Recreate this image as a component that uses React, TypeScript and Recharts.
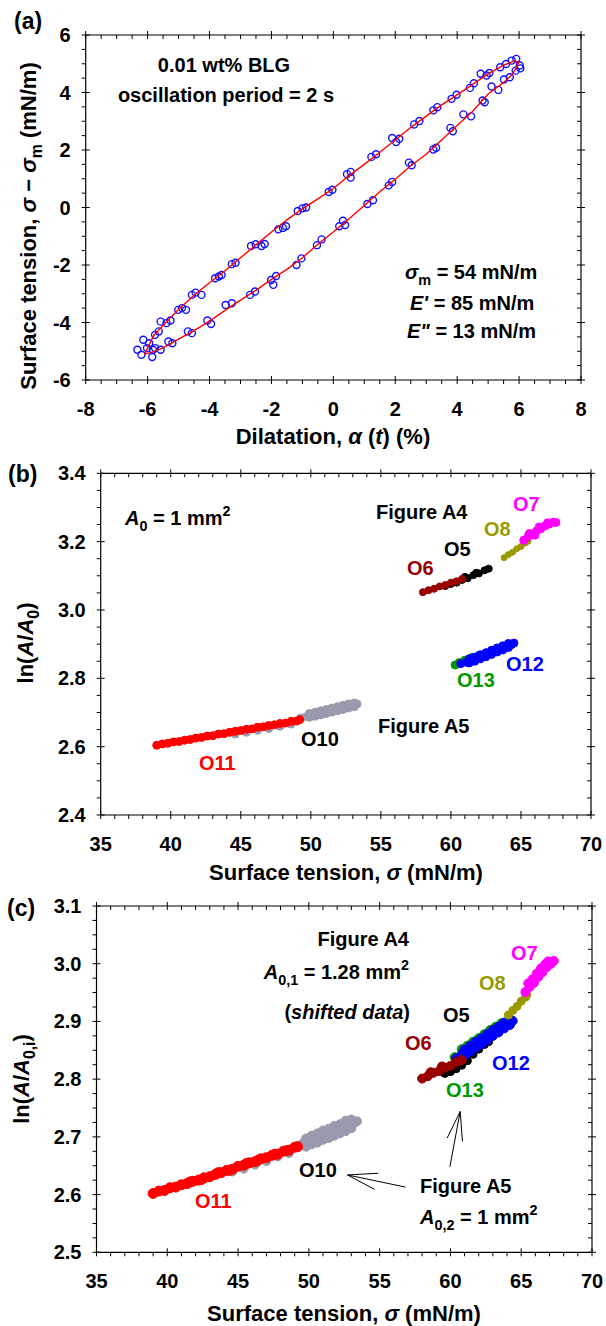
import React from 'react';
import { ScatterChart, Scatter, XAxis, YAxis, ReferenceLine } from 'recharts';

const FONT = '"Liberation Sans", Arial, sans-serif';

// ---------- panel (a): dilatation loop ----------
const aUpper: [number, number][] = [
  [-6.33, -4.95], [-6.2, -5.12], [-6.14, -4.6], [-6.02, -4.89], [-5.95, -4.72], [-5.83, -4.95],
  [-5.76, -4.43], [-5.64, -4.31], [-5.85, -5.2], [-5.58, -3.97], [-5.39, -4.02], [-5.26, -3.93],
  [-5.01, -3.56], [-4.89, -3.5], [-4.76, -3.56], [-4.57, -3.04], [-4.45, -2.96], [-4.26, -3.04],
  [-3.82, -2.46], [-3.7, -2.4], [-3.61, -2.35], [-3.28, -1.97], [-3.16, -1.92],
  [-2.66, -1.34], [-2.51, -1.28], [-2.32, -1.34], [-2.22, -1.27],
  [-1.78, -0.76], [-1.63, -0.71], [-1.53, -0.65], [-1.15, -0.12], [-1.0, -0.03], [-0.88, 0.0],
  [-0.15, 0.54], [-0.03, 0.62], [0.44, 1.16], [0.56, 1.24], [0.56, 1.04], [1.23, 1.76], [1.38, 1.85],
  [1.9, 2.42], [2.03, 2.28], [2.13, 2.39], [2.61, 2.89], [2.78, 3.01], [3.23, 3.38], [3.36, 3.49],
  [3.82, 3.78], [3.98, 3.92], [4.41, 4.16], [4.54, 4.32], [4.76, 4.65], [4.95, 4.59], [5.04, 4.68],
  [5.39, 4.88], [5.58, 4.99], [5.76, 5.11], [5.91, 5.17],
];
const aLower: [number, number][] = [
  [6.02, 4.94], [6.04, 4.84], [5.89, 4.76], [5.7, 4.53], [5.51, 4.45], [5.11, 4.21], [5.33, 4.09],
  [4.82, 3.72], [4.89, 3.66], [4.2, 3.24], [4.45, 3.17], [3.78, 2.77], [3.86, 2.65],
  [3.23, 2.02], [3.32, 2.08], [2.44, 1.56], [2.53, 1.47], [1.79, 0.77], [1.9, 0.89],
  [1.1, 0.12], [1.28, 0.25], [0.31, -0.46], [0.38, -0.61], [0.19, -0.65],
  [-0.53, -1.31], [-0.38, -1.11], [-1.19, -2.0], [-1.03, -1.77],
  [-2.01, -2.52], [-1.94, -2.69], [-1.85, -2.38], [-2.69, -3.04], [-2.53, -2.92],
  [-3.48, -3.39], [-3.28, -3.33], [-4.07, -3.93], [-3.95, -4.05], [-4.7, -4.31], [-4.57, -4.37],
  [-5.33, -4.66], [-5.2, -4.72], [-5.76, -4.89], [-5.58, -4.95],
];
const aFit: [number, number][] = [
  [-6.1, -5.1], [-5.8, -4.45], [-5.4, -3.98], [-5.0, -3.55], [-4.5, -3.05], [-4.0, -2.62],
  [-3.5, -2.2], [-3.0, -1.75], [-2.5, -1.3], [-2.0, -0.85], [-1.5, -0.43], [-1.0, -0.05],
  [-0.5, 0.3], [0, 0.66], [0.5, 1.1], [1.0, 1.5], [1.5, 1.92], [2.0, 2.35], [2.5, 2.78],
  [3.0, 3.18], [3.5, 3.57], [4.0, 3.92], [4.5, 4.28], [5.0, 4.65], [5.5, 4.95], [5.85, 5.1],
  [6.0, 5.05], [5.8, 4.65], [5.5, 4.35], [5.0, 3.95], [4.5, 3.35], [4.0, 2.85], [3.5, 2.35],
  [3.0, 1.85], [2.5, 1.45], [2.0, 0.98], [1.5, 0.55], [1.0, 0.07], [0.5, -0.4], [0, -0.85],
  [-0.5, -1.28], [-1.0, -1.75], [-1.5, -2.15], [-2.0, -2.5], [-2.5, -2.88], [-3.0, -3.22],
  [-3.5, -3.58], [-4.0, -3.95], [-4.5, -4.28], [-5.0, -4.58], [-5.5, -4.88], [-5.9, -5.05],
  [-6.1, -5.1],
];

// ---------- panel (b): ln(A/A0) vs sigma ----------
const bO11: [number, number][] = [
  [39.0, 2.604], [39.4, 2.608], [39.8, 2.61], [40.2, 2.614], [40.6, 2.615], [41.0, 2.619],
  [41.4, 2.621], [41.8, 2.625], [42.2, 2.627], [42.6, 2.631], [43.0, 2.632], [43.4, 2.637],
  [43.8, 2.638], [44.2, 2.642], [44.6, 2.645], [45.0, 2.647], [45.4, 2.651], [45.8, 2.652],
  [46.2, 2.657], [46.6, 2.658], [47.0, 2.662], [47.4, 2.664], [47.8, 2.668], [48.2, 2.669],
  [48.6, 2.674], [49.0, 2.675], [49.2, 2.679],
];
const bO10: [number, number][] = [
  [44.6, 2.637], [45.4, 2.642], [46.2, 2.648], [47.0, 2.653], [47.8, 2.66], [48.6, 2.666],
  [49.3, 2.684], [49.7, 2.688], [50.1, 2.694], [50.5, 2.697], [50.9, 2.702], [51.3, 2.704],
  [51.7, 2.71], [52.1, 2.712], [52.5, 2.718], [52.9, 2.72], [53.3, 2.725],
  [49.9, 2.697], [50.3, 2.701], [50.7, 2.705], [51.1, 2.709], [51.5, 2.713], [51.9, 2.717],
  [52.3, 2.721], [52.7, 2.725], [53.1, 2.728],
  [49.9, 2.686], [50.3, 2.689], [50.7, 2.693], [51.1, 2.697], [51.5, 2.701], [51.9, 2.705],
  [52.3, 2.709], [52.7, 2.713], [53.1, 2.717],
];
const bO6: [number, number][] = [
  [58.0, 3.052], [58.4, 3.058], [58.8, 3.062], [59.2, 3.069], [59.6, 3.073], [60.0, 3.08],
  [60.4, 3.084], [60.8, 3.091],
];
const bO5: [number, number][] = [
  [59.6, 3.07], [60.0, 3.076], [60.4, 3.08], [60.8, 3.088], [61.2, 3.093], [61.6, 3.102],
  [62.0, 3.107], [62.4, 3.116], [62.7, 3.121], [61.0, 3.097], [61.8, 3.109],
];
const bO8: [number, number][] = [
  [63.8, 3.153], [64.1, 3.162], [64.4, 3.169], [64.7, 3.179], [65.0, 3.186], [65.3, 3.196], [65.5, 3.201],
];
const bO7: [number, number][] = [
  [65.2, 3.204], [65.5, 3.214], [65.8, 3.221], [66.1, 3.231], [66.4, 3.237], [66.7, 3.246],
  [67.0, 3.251], [67.3, 3.257], [67.5, 3.256], [65.6, 3.224], [66.0, 3.219], [66.3, 3.243], [66.9, 3.255],
];
const bO13: [number, number][] = [
  [60.3, 2.839], [60.6, 2.846], [61.0, 2.853], [61.5, 2.861], [62.0, 2.867], [62.5, 2.874],
];
const bO12: [number, number][] = [
  [60.7, 2.843], [61.1, 2.847], [61.5, 2.854], [61.9, 2.859], [62.3, 2.867], [62.7, 2.871],
  [63.1, 2.88], [63.5, 2.885], [63.9, 2.894], [64.3, 2.898], [64.5, 2.903],
  [61.3, 2.857], [61.7, 2.862], [62.1, 2.869], [62.5, 2.875], [62.9, 2.882], [63.3, 2.889],
  [63.7, 2.895], [64.1, 2.902],
  [61.3, 2.845], [61.7, 2.85], [62.1, 2.857], [62.5, 2.863], [62.9, 2.87], [63.3, 2.877],
  [63.7, 2.883], [64.1, 2.89],
];

// ---------- panel (c): shifted data ----------
const cO11: [number, number][] = [
  [39.0, 2.602], [39.4, 2.606], [39.8, 2.607], [40.2, 2.612], [40.6, 2.613], [41.0, 2.617],
  [41.4, 2.619], [41.8, 2.623], [42.2, 2.625], [42.6, 2.629], [43.0, 2.631], [43.4, 2.635],
  [43.8, 2.638], [44.2, 2.642], [44.6, 2.644], [45.0, 2.649], [45.4, 2.651], [45.8, 2.655],
  [46.2, 2.657], [46.6, 2.662], [47.0, 2.664], [47.4, 2.668], [47.8, 2.67], [48.2, 2.675],
  [48.6, 2.677], [49.0, 2.682], [49.2, 2.683], [41.6, 2.622], [43.6, 2.638], [45.6, 2.654],
  [47.6, 2.67], [42.4, 2.626], [44.4, 2.642], [46.4, 2.659], [48.4, 2.676],
];
const cO10: [number, number][] = [
  [44.6, 2.64], [45.4, 2.645], [46.2, 2.652], [47.0, 2.658], [47.8, 2.666], [48.6, 2.672],
  [49.2, 2.684], [49.6, 2.689], [50.0, 2.692], [50.4, 2.698], [50.8, 2.7], [51.2, 2.706],
  [51.6, 2.708], [52.0, 2.714], [52.4, 2.716], [52.8, 2.722], [53.2, 2.724], [53.4, 2.727],
  [49.8, 2.697], [50.2, 2.702], [50.6, 2.706], [51.0, 2.711], [51.4, 2.714], [51.8, 2.719],
  [52.2, 2.722], [52.6, 2.728], [53.0, 2.73],
  [49.8, 2.683], [50.2, 2.687], [50.6, 2.69], [51.0, 2.695], [51.4, 2.698], [51.8, 2.702],
  [52.2, 2.706], [52.6, 2.71], [53.0, 2.715],
];
const cO5: [number, number][] = [
  [59.6, 2.81], [60.0, 2.813], [60.4, 2.818], [60.8, 2.824], [61.2, 2.832], [61.6, 2.843],
  [62.0, 2.852], [62.4, 2.86], [62.7, 2.865],
];
const cO6: [number, number][] = [
  [58.0, 2.801], [58.4, 2.805], [58.8, 2.811], [59.2, 2.814], [59.6, 2.82], [60.0, 2.823],
  [60.4, 2.83], [60.8, 2.833], [58.6, 2.812], [59.4, 2.822],
];
const cO13: [number, number][] = [
  [60.3, 2.838], [60.8, 2.852], [61.2, 2.858], [61.6, 2.865], [62.0, 2.871], [62.4, 2.878],
  [62.8, 2.885], [63.2, 2.891], [63.6, 2.897],
];
const cO12: [number, number][] = [
  [60.4, 2.836], [60.8, 2.843], [61.2, 2.849], [61.6, 2.857], [62.0, 2.862], [62.4, 2.87],
  [62.8, 2.876], [63.2, 2.883], [63.6, 2.889], [64.0, 2.896], [64.4, 2.901],
  [61.0, 2.851], [61.4, 2.858], [61.8, 2.865], [62.2, 2.871], [62.6, 2.878], [63.0, 2.885],
  [63.4, 2.891], [63.8, 2.898], [64.2, 2.904],
  [61.0, 2.841], [61.4, 2.848], [61.8, 2.855], [62.2, 2.861], [62.6, 2.868], [63.0, 2.875],
  [63.4, 2.881], [63.8, 2.888], [64.2, 2.894],
];
const cO8: [number, number][] = [
  [64.1, 2.911], [64.4, 2.919], [64.7, 2.926], [65.0, 2.935], [65.3, 2.942], [65.4, 2.946],
];
const cO7: [number, number][] = [
  [65.3, 2.951], [65.6, 2.96], [65.9, 2.967], [66.2, 2.977], [66.5, 2.985], [66.8, 2.994],
  [67.1, 3.0], [67.3, 3.005], [65.5, 2.966], [65.8, 2.973], [66.1, 2.983], [66.4, 2.992],
  [66.7, 2.999], [66.9, 3.004],
];

// arrows in panel (c): [from, tip, barb1, barb2]
const arrowO10: [number, number][] = [[56.82, 2.613], [52.73, 2.634], [54.91, 2.637], [54.64, 2.609]];
const arrowO13: [number, number][] = [[59.96, 2.648], [60.69, 2.744], [59.77, 2.698], [60.85, 2.692]];

// ---------- ticks ----------
const aXMajor = [-8, -6, -4, -2, 0, 2, 4, 6, 8];
const aYMajor = [-6, -4, -2, 0, 2, 4, 6];
const sXMajor = [35, 40, 45, 50, 55, 60, 65, 70];
const bYMajor = [2.4, 2.6, 2.8, 3.0, 3.2, 3.4];
const cYMajor = [2.5, 2.6, 2.7, 2.8, 2.9, 3.0, 3.1];

const steps = (from: number, to: number, step: number) => {
  const out: number[] = [];
  const n = Math.round((to - from) / step);
  for (let i = 0; i <= n; i++) out.push(+(from + i * step).toFixed(4));
  return out;
};
const aXTicks = steps(-8, 8, 0.5);
const aYTicks = steps(-6, 6, 0.5);
const sXTicks = steps(35, 70, 1);
const bYTicks = steps(2.4, 3.4, 0.05);
const cYTicks = steps(2.5, 3.1, 0.025);

const toPts = (arr: [number, number][]) => arr.map(([x, y]) => ({ x, y }));

type Side = 'bottom' | 'top' | 'left' | 'right';

// custom tick: long crossing tick for majors, short one for minors, label only on bottom/left majors
const mkTick = (side: Side, majors: number[], fmt?: (v: number) => string) => (props: any) => {
  const { x, y, payload } = props;
  const v = Number(payload.value);
  const major = majors.some((m) => Math.abs(m - v) < 1e-6);
  const horiz = side === 'bottom' || side === 'top';
  let l: number[];
  if (horiz) l = major ? [x, y - 4, x, y + 4] : [x, y, x, y + 4];
  else l = major ? [x - 4, y, x + 4, y] : [x - 4, y, x, y];
  return (
    <g>
      <line x1={l[0]} y1={l[1]} x2={l[2]} y2={l[3]} stroke="#000" strokeWidth={1} />
      {major && fmt && side === 'bottom' && (
        <text x={x} y={y + 36} textAnchor="middle" fontFamily={FONT} fontWeight="bold" fontSize={20} fill="#000">
          {fmt(v)}
        </text>
      )}
      {major && fmt && side === 'left' && (
        <text x={x - 15} y={y + 7} textAnchor="end" fontFamily={FONT} fontWeight="bold" fontSize={20} fill="#000">
          {fmt(v)}
        </text>
      )}
    </g>
  );
};

const dot = (color: string, r: number, open = false) => (p: any) => (
  <circle cx={p.cx} cy={p.cy} r={r} fill={open ? 'none' : color} stroke={color} strokeWidth={open ? 1.4 : 1} />
);
const noDot = () => <g />;

const axisLine = { stroke: '#000', strokeWidth: 1.2 };

// the four sides of the box; axes need a size of at least 1px or recharts skips them
const Frame = ({ xd, yd, xt, yt, xm, ym, xf, yf }: any) => [
  <XAxis key="xb" xAxisId="b" type="number" dataKey="x" domain={xd} allowDataOverflow ticks={xt} interval={0}
    height={1} tickSize={0} tickMargin={0} tickLine={false} axisLine={axisLine} tick={mkTick('bottom', xm, xf)} />,
  <XAxis key="xt" xAxisId="t" orientation="top" type="number" dataKey="x" domain={xd} allowDataOverflow ticks={xt}
    interval={0} height={1} tickSize={0} tickMargin={0} tickLine={false} axisLine={axisLine} tick={mkTick('top', xm)} />,
  <YAxis key="yl" yAxisId="l" type="number" dataKey="y" domain={yd} allowDataOverflow ticks={yt} interval={0}
    width={1} tickSize={0} tickMargin={0} tickLine={false} axisLine={axisLine} tick={mkTick('left', ym, yf)} />,
  <YAxis key="yr" yAxisId="r" orientation="right" type="number" dataKey="y" domain={yd} allowDataOverflow ticks={yt}
    interval={0} width={1} tickSize={0} tickMargin={0} tickLine={false} axisLine={axisLine} tick={mkTick('right', ym)} />,
];

const series = (name: string, data: [number, number][], color: string, r: number) => (
  <Scatter key={name} name={name} xAxisId="b" yAxisId="l" data={toPts(data)} shape={dot(color, r)} isAnimationActive={false} />
);

const arrowLines = (id: string, a: [number, number][]) =>
  [[a[0], a[1]], [a[2], a[1]], [a[3], a[1]]].map((seg, i) => (
    <ReferenceLine key={id + i} xAxisId="b" yAxisId="l" stroke="#000" strokeWidth={1}
      segment={[{ x: seg[0][0], y: seg[0][1] }, { x: seg[1][0], y: seg[1][1] }]} />
  ));

const T = { fontFamily: FONT, fontWeight: 'bold' as const, fill: '#000' };
// subscript followed by the rest of the line back on the baseline
const Sub = ({ children, after }: any) => (
  <>
    <tspan dy={6} fontSize="0.72em">{children}</tspan>
    <tspan dy={-6}>{after}</tspan>
  </>
);
const Sup = ({ children }: any) => <tspan dy={-9} fontSize="0.72em">{children}</tspan>;
const I = ({ children }: any) => <tspan fontStyle="italic">{children}</tspan>;

const Annotations = () => (
  <svg width={606} height={1326} style={{ position: 'absolute', left: 0, top: 0, pointerEvents: 'none' }}>
    <g {...T}>
      {/* panel (a) */}
      <text x={14} y={29} fontSize={23}>(a)</text>
      <text x={224} y={72} fontSize={20} textAnchor="middle">0.01 wt% BLG</text>
      <text x={226} y={102} fontSize={20} textAnchor="middle">oscillation period = 2 s</text>
      <text x={405} y={279} fontSize={20}><I>σ</I><Sub after=" = 54 mN/m">m</Sub></text>
      <text x={410} y={310} fontSize={20}><I>E'</I> = 85 mN/m</text>
      <text x={407} y={338} fontSize={20}><I>E"</I> = 13 mN/m</text>
      <text x={333} y={444} fontSize={22} textAnchor="middle">Dilatation, <I>α</I> (<I>t</I>) (%)</text>
      <text x={36} y={226} fontSize={22} textAnchor="middle" transform="rotate(-90 36 226)">
        Surface tension, <I>σ</I> − <I>σ</I><Sub after=" (mN/m)">m</Sub>
      </text>

      {/* panel (b) */}
      <text x={8} y={482} fontSize={23}>(b)</text>
      <text x={346} y={880} fontSize={22} textAnchor="middle">Surface tension, <I>σ</I>  (mN/m)</text>
      <text x={33} y={643} fontSize={22} textAnchor="middle" transform="rotate(-90 33 643)">
        ln(<I>A</I>/<I>A</I><Sub after=")">0</Sub>
      </text>
      <text x={125} y={525} fontSize={20}><I>A</I><Sub after=" = 1 mm">0</Sub><Sup>2</Sup></text>
      <text x={376} y={519} fontSize={20}>Figure A4</text>
      <text x={378} y={733} fontSize={20}>Figure A5</text>
      <text x={513} y={511} fontSize={20} fill="#ff00ff">O7</text>
      <text x={484} y={536} fontSize={20} fill="#999900">O8</text>
      <text x={444} y={556} fontSize={20}>O5</text>
      <text x={407} y={575} fontSize={20} fill="#990000">O6</text>
      <text x={506} y={671} fontSize={20} fill="#0000ff">O12</text>
      <text x={457} y={687} fontSize={20} fill="#009900">O13</text>
      <text x={301} y={746} fontSize={20}>O10</text>
      <text x={199} y={770} fontSize={20} fill="#ff0000">O11</text>

      {/* panel (c) */}
      <text x={7} y={916} fontSize={23}>(c)</text>
      <text x={344} y={1321} fontSize={22} textAnchor="middle">Surface tension, <I>σ</I>  (mN/m)</text>
      <text x={29} y={1079} fontSize={22} textAnchor="middle" transform="rotate(-90 29 1079)">
        ln(<I>A</I>/<I>A</I><Sub after=")">0,i</Sub>
      </text>
      <text x={409} y={946} fontSize={20} textAnchor="end">Figure A4</text>
      <text x={409} y={979} fontSize={20} textAnchor="end"><I>A</I><Sub after=" = 1.28 mm">0,1</Sub><Sup>2</Sup></text>
      <text x={410} y={1019} fontSize={20} textAnchor="end">(<I>shifted data</I>)</text>
      <text x={511} y={960} fontSize={20} fill="#ff00ff">O7</text>
      <text x={479} y={990} fontSize={20} fill="#999900">O8</text>
      <text x={443} y={1022} fontSize={20}>O5</text>
      <text x={405} y={1050} fontSize={20} fill="#990000">O6</text>
      <text x={492} y={1070} fontSize={20} fill="#0000ff">O12</text>
      <text x={446} y={1097} fontSize={20} fill="#009900">O13</text>
      <text x={299} y={1177} fontSize={20}>O10</text>
      <text x={195} y={1208} fontSize={20} fill="#ff0000">O11</text>
      <text x={420} y={1193} fontSize={20}>Figure A5</text>
      <text x={420} y={1224} fontSize={20}><I>A</I><Sub after=" = 1 mm">0,2</Sub><Sup>2</Sup></text>
    </g>
  </svg>
);

const fmtInt = (v: number) => String(v);
const fmt1 = (v: number) => v.toFixed(1);

const App = () => (
  <div style={{ position: 'absolute', left: 0, top: 0, width: 606, height: 1326, background: '#fff' }}>
    <div style={{ position: 'absolute', left: 0, top: 0 }}>
      <ScatterChart width={606} height={450} margin={{ top: 34, right: 24, bottom: 69, left: 84.7 }}>
        {Frame({ xd: [-8, 8], yd: [-6, 6], xt: aXTicks, yt: aYTicks, xm: aXMajor, ym: aYMajor, xf: fmtInt, yf: fmtInt })}
        <Scatter name="up" xAxisId="b" yAxisId="l" data={toPts(aUpper)} shape={dot('#1010ff', 3.5, true)} isAnimationActive={false} />
        <Scatter name="down" xAxisId="b" yAxisId="l" data={toPts(aLower)} shape={dot('#1010ff', 3.5, true)} isAnimationActive={false} />
        <Scatter name="fit" xAxisId="b" yAxisId="l" data={toPts(aFit)} shape={noDot} line={{ stroke: '#ff0000', strokeWidth: 1.4 }}
          lineType="joint" isAnimationActive={false} />
      </ScatterChart>
    </div>
    <div style={{ position: 'absolute', left: 0, top: 440 }}>
      <ScatterChart width={606} height={440} margin={{ top: 32.3, right: 14, bottom: 64, left: 99.7 }}>
        {Frame({ xd: [35, 70], yd: [2.4, 3.4], xt: sXTicks, yt: bYTicks, xm: sXMajor, ym: bYMajor, xf: fmtInt, yf: fmt1 })}
        {series('O10', bO10, '#9a9aae', 4)}
        {series('O11', bO11, '#ff0000', 4)}
        {series('O5', bO5, '#000000', 3.5)}
        {series('O6', bO6, '#990000', 3.5)}
        {series('O8', bO8, '#999900', 3)}
        {series('O7', bO7, '#ff00ff', 4)}
        {series('O13', bO13, '#009900', 4)}
        {series('O12', bO12, '#0000ff', 4)}
      </ScatterChart>
    </div>
    <div style={{ position: 'absolute', left: 0, top: 880 }}>
      <ScatterChart width={606} height={446} margin={{ top: 25, right: 13, bottom: 72.7, left: 95.5 }}>
        {Frame({ xd: [35, 70], yd: [2.5, 3.1], xt: sXTicks, yt: cYTicks, xm: sXMajor, ym: cYMajor, xf: fmtInt, yf: fmt1 })}
        {series('O10', cO10, '#9a9aae', 4.5)}
        {series('O11', cO11, '#ff0000', 5)}
        {series('O5', cO5, '#000000', 4)}
        {series('O13', cO13, '#009900', 4.5)}
        {series('O12', cO12, '#0000ff', 4.5)}
        {series('O6', cO6, '#990000', 4.5)}
        {series('O8', cO8, '#999900', 4)}
        {series('O7', cO7, '#ff00ff', 4.5)}
        {arrowLines('a1', arrowO10)}
        {arrowLines('a2', arrowO13)}
      </ScatterChart>
    </div>
    <Annotations />
  </div>
);

export default App;
